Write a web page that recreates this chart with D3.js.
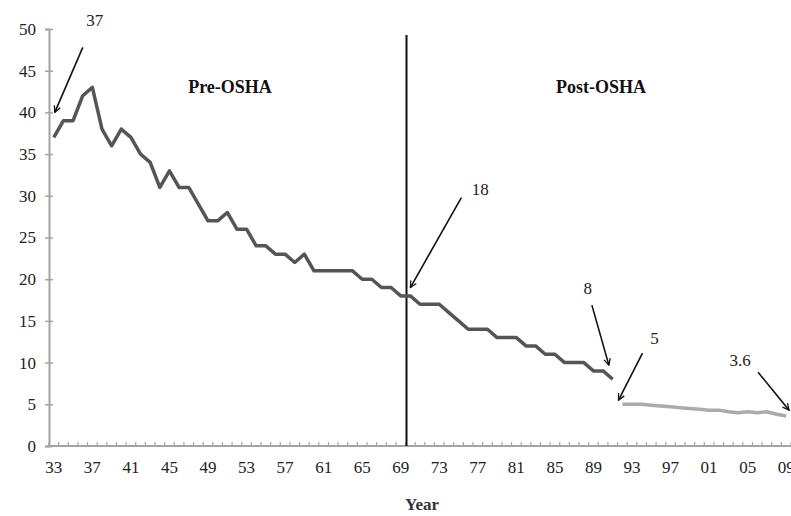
<!DOCTYPE html>
<html>
<head>
<meta charset="utf-8">
<script src="https://cdn.jsdelivr.net/npm/d3@7"></script>
<style>
  body { margin: 0; background: #fff; }
  svg { display: block; font-family: "Liberation Serif", "Times New Roman", serif; }
</style>
</head>
<body>
<svg id="chart"></svg>
<script>
// Fatality rate per 100,000 workers, 1933-2009
const preYears = d3.range(1933, 1992);
const preValues = [37, 39, 39, 42, 43, 38, 36, 38, 37, 35,
  34, 31, 33, 31, 31, 29, 27, 27, 28, 26,
  26, 24, 24, 23, 23, 22, 23, 21, 21, 21,
  21, 21, 20, 20, 19, 19, 18, 18, 17, 17,
  17, 16, 15, 14, 14, 14, 13, 13, 13, 12,
  12, 11, 11, 10, 10, 10, 9, 9, 8];
const postYears = d3.range(1992, 2010);
const postValues = [5.0, 5.0, 5.0, 4.9, 4.8, 4.7, 4.6, 4.5, 4.4,
  4.3, 4.3, 4.1, 4.0, 4.1, 4.0, 4.1, 3.8, 3.6];
const yTicks = [0, 5, 10, 15, 20, 25, 30, 35, 40, 45, 50];
const xLabelYears = d3.range(1933, 2010, 4);
const callouts = [
  { label: '37', year: 1933.1, value: 40 },
  { label: '18', year: 1970.0, value: 19 },
  { label: '8', year: 1990.6, value: 9.7 },
  { label: '5', year: 1991.6, value: 5.5 },
  { label: '3.6', year: 2009.3, value: 4.3 }
];
const oshaYear = 1969.6;

const width = 791, height = 516;
const svg = d3.select('#chart').attr('width', width).attr('height', height);

const x = d3.scaleLinear().domain([1932.5, 2009.5]).range([49, 791]);
const y = d3.scaleLinear().domain([0, 50]).range([446, 29]);

const axisColor = '#a3a3a3';
const textColor = '#222';

// Y axis
const yAxis = svg.append('g')
  .attr('transform', `translate(${x(1932.5)},0)`)
  .call(d3.axisLeft(y).tickValues(yTicks).tickSize(4).tickPadding(9));
yAxis.select('.domain').attr('stroke', axisColor).attr('stroke-width', 2);
yAxis.selectAll('.tick line').attr('x1', 4).attr('x2', -4).attr('stroke', axisColor).attr('stroke-width', 1.5);
yAxis.selectAll('.tick text').attr('font-size', '17px').attr('fill', textColor)
  .attr('font-family', '"Liberation Serif", serif');

// X axis: year boundaries as minor ticks, labels every 4 years
const xAxis = svg.append('g').attr('transform', `translate(0,${y(0)})`);
xAxis.append('line')
  .attr('x1', x(1932.5)).attr('x2', x(2009.5))
  .attr('stroke', axisColor).attr('stroke-width', 2);
xAxis.selectAll('line.minor')
  .data(d3.range(1932.5, 2010, 1))
  .join('line')
  .attr('class', 'minor')
  .attr('x1', d => x(d)).attr('x2', d => x(d))
  .attr('y1', 0).attr('y2', -4)
  .attr('stroke', axisColor).attr('stroke-width', 1.2);
xAxis.selectAll('text')
  .data(xLabelYears)
  .join('text')
  .attr('x', d => x(d))
  .attr('y', 27)
  .attr('text-anchor', 'middle')
  .attr('font-size', '17px')
  .attr('fill', textColor)
  .text(d => String(d % 100).padStart(2, '0'));

svg.append('text')
  .attr('x', 422).attr('y', 510)
  .attr('text-anchor', 'middle')
  .attr('font-size', '17px')
  .attr('font-weight', 'bold')
  .attr('fill', '#333')
  .text('Year');

// OSHA divider
svg.append('line')
  .attr('x1', x(oshaYear)).attr('x2', x(oshaYear))
  .attr('y1', 35).attr('y2', y(0))
  .attr('stroke', '#111').attr('stroke-width', 2);

svg.append('text')
  .attr('x', 230).attr('y', 93)
  .attr('text-anchor', 'middle')
  .attr('font-size', '18px').attr('font-weight', 'bold').attr('fill', '#111')
  .text('Pre-OSHA');
svg.append('text')
  .attr('x', 601).attr('y', 93)
  .attr('text-anchor', 'middle')
  .attr('font-size', '18px').attr('font-weight', 'bold').attr('fill', '#111')
  .text('Post-OSHA');

// Lines
const line = d3.line().x(d => x(d[0])).y(d => y(d[1]));
svg.append('path')
  .datum(preYears.map((yr, i) => [yr, preValues[i]]))
  .attr('fill', 'none')
  .attr('stroke', '#555')
  .attr('stroke-width', 3.5)
  .attr('stroke-linejoin', 'round')
  .attr('d', line);
svg.append('path')
  .datum(postYears.map((yr, i) => [yr, postValues[i]]))
  .attr('fill', 'none')
  .attr('stroke', '#ababab')
  .attr('stroke-width', 3.5)
  .attr('stroke-linejoin', 'round')
  .attr('d', line);

// Callout arrows
svg.append('defs').append('marker')
  .attr('id', 'head')
  .attr('viewBox', '0 0 10 10')
  .attr('refX', 9).attr('refY', 5)
  .attr('markerWidth', 8).attr('markerHeight', 8)
  .attr('markerUnits', 'userSpaceOnUse')
  .attr('orient', 'auto')
  .append('path')
  .attr('d', 'M1,1 L9,5 L1,9')
  .attr('fill', 'none')
  .attr('stroke', '#111')
  .attr('stroke-width', 1.6);

// tail offset (dx, dy) and text offset from the tip
const calloutOffsets = {
  '37': { tail: [28, -65], text: [40, -92] },
  '18': { tail: [51, -90], text: [70, -99] },
  '8': { tail: [-17, -60], text: [-21, -77] },
  '5': { tail: [24, -47], text: [36, -62] },
  '3.6': { tail: [-31, -38], text: [-49, -50] }
};

callouts.forEach(c => {
  const tx = x(c.year), ty = y(c.value);
  const o = calloutOffsets[c.label];
  svg.append('line')
    .attr('x1', tx + o.tail[0]).attr('y1', ty + o.tail[1])
    .attr('x2', tx).attr('y2', ty)
    .attr('stroke', '#111').attr('stroke-width', 1.6)
    .attr('marker-end', 'url(#head)');
  svg.append('text')
    .attr('x', tx + o.text[0]).attr('y', ty + o.text[1] + 6)
    .attr('text-anchor', 'middle')
    .attr('font-size', '17px')
    .attr('fill', '#222')
    .text(c.label);
});
</script>
</body>
</html>
